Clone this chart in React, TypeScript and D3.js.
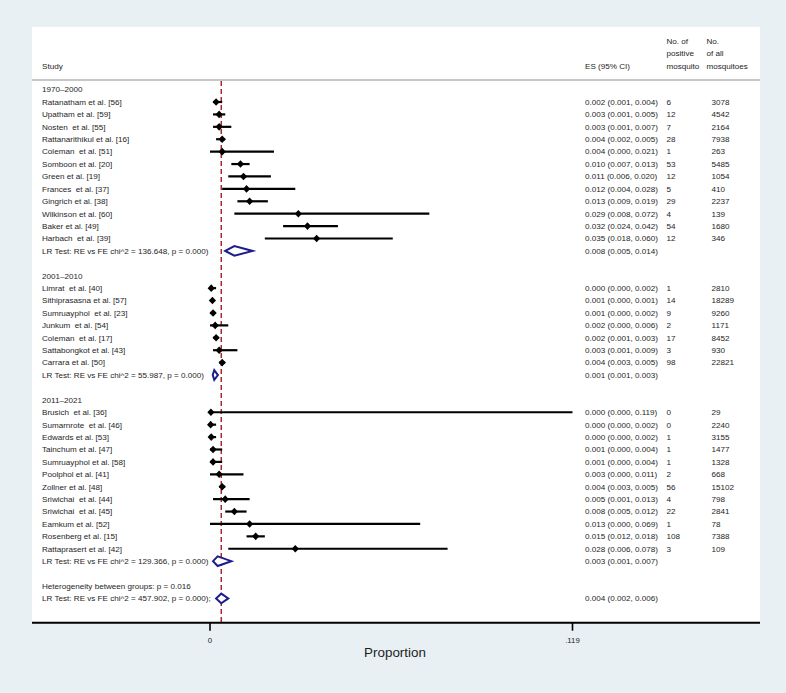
import React from "react";
import * as d3 from "d3";

// ---------- DATA ----------
const groupLabels = ["1970–2000", "2001–2010", "2011–2021"];

const studyNames1 = [
  "Ratanatham et al. [56]", "Upatham et al. [59]", "Nosten  et al. [55]", "Rattanarithikul et al. [16]",
  "Coleman  et al. [51]", "Somboon et al. [20]", "Green et al. [19]", "Frances  et al. [37]",
  "Gingrich et al. [38]", "Wilkinson et al. [60]", "Baker et al. [49]", "Harbach  et al. [39]",
];
const es1 = [0.002, 0.003, 0.003, 0.004, 0.004, 0.010, 0.011, 0.012, 0.013, 0.029, 0.032, 0.035];
const lo1 = [0.001, 0.001, 0.001, 0.002, 0.000, 0.007, 0.006, 0.004, 0.009, 0.008, 0.024, 0.018];
const hi1 = [0.004, 0.005, 0.007, 0.005, 0.021, 0.013, 0.020, 0.028, 0.019, 0.072, 0.042, 0.060];
const pos1 = [6, 12, 7, 28, 1, 53, 12, 5, 29, 4, 54, 12];
const tot1 = [3078, 4542, 2164, 7938, 263, 5485, 1054, 410, 2237, 139, 1680, 346];

const studyNames2 = [
  "Limrat  et al. [40]", "Sithiprasasna et al. [57]", "Sumruayphol  et al. [23]", "Junkum  et al. [54]",
  "Coleman  et al. [17]", "Sattabongkot et al. [43]", "Carrara et al. [50]",
];
const es2 = [0.0004, 0.0008, 0.001, 0.0017, 0.002, 0.003, 0.004];
const lo2 = [0.000, 0.000, 0.000, 0.000, 0.001, 0.001, 0.003];
const hi2 = [0.002, 0.001, 0.002, 0.006, 0.003, 0.009, 0.005];
const pos2 = [1, 14, 9, 2, 17, 3, 98];
const tot2 = [2810, 18289, 9260, 1171, 8452, 930, 22821];

const studyNames3 = [
  "Brusich  et al. [36]", "Sumarnrote  et al. [46]", "Edwards et al. [53]", "Tainchum et al. [47]",
  "Sumruayphol et al. [58]", "Poolphol et al. [41]", "Zollner et al. [48]", "Sriwichai  et al. [44]",
  "Sriwichai  et al. [45]", "Eamkum et al. [52]", "Rosenberg et al. [15]", "Rattaprasert et al. [42]",
];
const es3 = [0.0003, 0.0002, 0.0004, 0.001, 0.001, 0.003, 0.004, 0.005, 0.008, 0.013, 0.015, 0.028];
const lo3 = [0.000, 0.000, 0.000, 0.000, 0.000, 0.000, 0.003, 0.001, 0.005, 0.000, 0.012, 0.006];
const hi3 = [0.119, 0.002, 0.002, 0.004, 0.004, 0.011, 0.005, 0.013, 0.012, 0.069, 0.018, 0.078];
const pos3 = [0, 0, 1, 1, 1, 2, 56, 4, 22, 1, 108, 3];
const tot3 = [29, 2240, 3155, 1477, 1328, 668, 15102, 798, 2841, 78, 7388, 109];

const pooledES = [0.008, 0.0014, 0.0025];
const pooledLo = [0.005, 0.0009, 0.001];
const pooledHi = [0.014, 0.0026, 0.007];
const pooledChi = ["136.648", "55.987", "129.366"];

const overallES = 0.0037;
const overallLo = 0.002;
const overallHi = 0.006;
const overallChi = "457.902";
const heterogeneityP = "0.016";

const xTicks = [0, 0.119];
const xTickLabels = ["0", ".119"];
const xTitle = "Proportion";

// ---------- LAYOUT ----------
const W = 786, H = 693;
const FONT = "'Liberation Sans', Arial, Helvetica, sans-serif";
const FS = 8.1;
const TXT = "#1e1e1e";
const BG = "#e8f0f3";
const NAVY = "#1c1c8c";
const RED = "#a8282e";

const panel = { x0: 32, x1: 760, y0: 27, y1: 622.7 };
const colStudy = 42, colES = 585, colPos = 666.5, colTot = 711.5, colTotHead = 706.5;

const x = d3.scaleLinear().domain([0, 0.119]).range([210, 572.5]);
const y = d3.scaleLinear().domain([0, 41]).range([89.6, 89.6 + 12.41 * 41]);

type Row =
  | { kind: "group"; label: string }
  | { kind: "study"; name: string; es: number; lo: number; hi: number; pos: number; tot: number }
  | { kind: "pooled"; label: string; es: number; lo: number; hi: number }
  | { kind: "text"; label: string }
  | { kind: "blank" };

function buildRows(): Row[] {
  const groups = [
    { n: studyNames1, es: es1, lo: lo1, hi: hi1, p: pos1, t: tot1 },
    { n: studyNames2, es: es2, lo: lo2, hi: hi2, p: pos2, t: tot2 },
    { n: studyNames3, es: es3, lo: lo3, hi: hi3, p: pos3, t: tot3 },
  ];
  const rows: Row[] = [];
  groups.forEach((g, gi) => {
    rows.push({ kind: "group", label: groupLabels[gi] });
    g.n.forEach((name, i) =>
      rows.push({ kind: "study", name, es: g.es[i], lo: g.lo[i], hi: g.hi[i], pos: g.p[i], tot: g.t[i] })
    );
    rows.push({
      kind: "pooled",
      label: `LR Test: RE vs FE chi^2 = ${pooledChi[gi]}, p = 0.000)`,
      es: pooledES[gi], lo: pooledLo[gi], hi: pooledHi[gi],
    });
    rows.push({ kind: "blank" });
  });
  rows.push({ kind: "text", label: `Heterogeneity between groups: p = ${heterogeneityP}` });
  rows.push({
    kind: "pooled",
    label: `LR Test: RE vs FE chi^2 = ${overallChi}, p = 0.000);`,
    es: overallES, lo: overallLo, hi: overallHi,
  });
  return rows;
}

const f3 = (v: number) => v.toFixed(3);
const esText = (es: number, lo: number, hi: number) => `${f3(es)} (${f3(lo)}, ${f3(hi)})`;

function Txt(props: { x: number; y: number; children: React.ReactNode; size?: number; anchor?: string }) {
  const size = props.size ?? FS;
  return (
    <text
      x={props.x}
      y={props.y + size * 0.35}
      fontSize={size}
      fontFamily={FONT}
      fill={TXT}
      textAnchor={props.anchor ?? "start"}
      style={{ whiteSpace: "pre" }}
    >
      {props.children}
    </text>
  );
}

export default function App() {
  const rows = buildRows();
  const headY = [40.7, 53.3, 66];
  return (
    <svg width={W} height={H} style={{ position: "absolute", left: 0, top: 0 }}>
      <rect x={0} y={0} width={W} height={H} fill={BG} />
      <rect x={panel.x0} y={panel.y0} width={panel.x1 - panel.x0} height={panel.y1 - panel.y0} fill="#ffffff" />

      {/* header */}
      <Txt x={colStudy} y={headY[2]}>Study</Txt>
      <Txt x={colES} y={headY[2]}>ES (95% CI)</Txt>
      <Txt x={colPos} y={headY[0]}>No. of</Txt>
      <Txt x={colPos} y={headY[1]}>positive</Txt>
      <Txt x={colPos} y={headY[2]}>mosquito</Txt>
      <Txt x={colTotHead} y={headY[0]}>No.</Txt>
      <Txt x={colTotHead} y={headY[1]}>of all</Txt>
      <Txt x={colTotHead} y={headY[2]}>mosquitoes</Txt>
      <line x1={panel.x0} x2={panel.x1} y1={80} y2={80} stroke="#b4b4b4" strokeWidth={1.6} />

      {/* reference line */}
      <line
        x1={x(overallES)} x2={x(overallES)} y1={81} y2={panel.y1}
        stroke={RED} strokeWidth={1.5} strokeDasharray="5,3"
      />

      {rows.map((r, i) => {
        const cy = y(i);
        if (r.kind === "group" || r.kind === "text") {
          return <Txt key={i} x={colStudy} y={cy}>{r.label}</Txt>;
        }
        if (r.kind === "study") {
          const cx = x(r.es);
          return (
            <g key={i}>
              <Txt x={colStudy} y={cy}>{r.name}</Txt>
              <line x1={x(r.lo)} x2={x(r.hi)} y1={cy} y2={cy} stroke="#000" strokeWidth={2.2} />
              <path
                d={`M${cx - 3.6},${cy} L${cx},${cy - 3.8} L${cx + 3.6},${cy} L${cx},${cy + 3.8} Z`}
                fill="#000"
              />
              <Txt x={colES} y={cy}>{esText(r.es, r.lo, r.hi)}</Txt>
              <Txt x={colPos} y={cy}>{String(r.pos)}</Txt>
              <Txt x={colTot} y={cy}>{String(r.tot)}</Txt>
            </g>
          );
        }
        if (r.kind === "pooled") {
          const a = x(r.lo), b = x(r.hi), c = x(r.es);
          return (
            <g key={i}>
              <Txt x={colStudy} y={cy}>{r.label}</Txt>
              <path
                d={`M${a},${cy} L${c},${cy - 4.8} L${b},${cy} L${c},${cy + 4.8} Z`}
                fill="#ffffff" stroke={NAVY} strokeWidth={2} strokeLinejoin="miter"
              />
              <Txt x={colES} y={cy}>{esText(r.es, r.lo, r.hi)}</Txt>
            </g>
          );
        }
        return null;
      })}

      {/* x axis */}
      <line x1={panel.x0} x2={panel.x1} y1={panel.y1} y2={panel.y1} stroke="#000" strokeWidth={2} />
      {xTicks.map((t, i) => (
        <g key={t}>
          <line x1={x(t)} x2={x(t)} y1={panel.y1} y2={panel.y1 + 8} stroke="#000" strokeWidth={1.6} />
          <Txt x={x(t)} y={640} anchor="middle" size={7.8}>{xTickLabels[i]}</Txt>
        </g>
      ))}
      <Txt x={395} y={652.7} anchor="middle" size={13.4}>{xTitle}</Txt>
    </svg>
  );
}
